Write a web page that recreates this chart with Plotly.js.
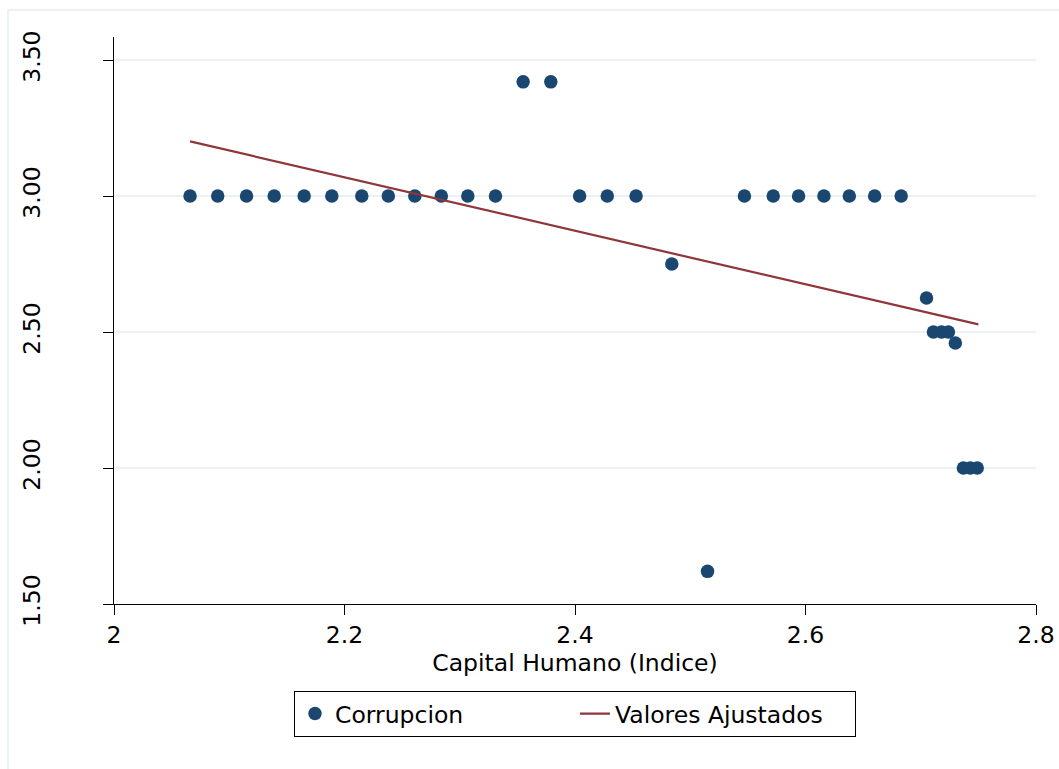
<!DOCTYPE html>
<html>
<head>
<meta charset="utf-8">
<script src="https://cdn.plot.ly/plotly-3.0.1.min.js"></script>
<style>html,body{margin:0;padding:0;background:#fff;}#chart{width:1059px;height:769px;}</style>
</head>
<body>
<div id="chart"></div>
<script>
var capitalHumano = [2.066, 2.090, 2.115, 2.139, 2.165, 2.189, 2.215, 2.238, 2.261, 2.284, 2.307, 2.331,
  2.355, 2.379, 2.404, 2.428, 2.453, 2.484, 2.515, 2.547, 2.572, 2.594, 2.616, 2.638, 2.660, 2.683,
  2.705, 2.711, 2.718, 2.724, 2.730, 2.737, 2.743, 2.749];
var corrupcion = [3.00, 3.00, 3.00, 3.00, 3.00, 3.00, 3.00, 3.00, 3.00, 3.00, 3.00, 3.00,
  3.42, 3.42, 3.00, 3.00, 3.00, 2.75, 1.62, 3.00, 3.00, 3.00, 3.00, 3.00, 3.00, 3.00,
  2.625, 2.50, 2.50, 2.50, 2.46, 2.00, 2.00, 2.00];
// Fitted line endpoints
var ajusteX = [2.066, 2.750];
var ajusteY = [3.201, 2.528];

var yTicks = [1.5, 2.0, 2.5, 3.0, 3.5];
var yTickText = ['1.50', '2.00', '2.50', '3.00', '3.50'];
var xTicks = [2, 2.2, 2.4, 2.6, 2.8];
var xTickText = ['2', '2.2', '2.4', '2.6', '2.8'];

var FONT = 'DejaVu Sans, Liberation Sans, Arial, sans-serif';
var FS = 23.5;
var gridCol = '#eaf2f3';

var traces = [
  {
    x: capitalHumano, y: corrupcion, type: 'scatter', mode: 'markers', name: 'Corrupcion',
    marker: {color: '#1a476f', size: 13.5}
  },
  {
    x: ajusteX, y: ajusteY, type: 'scatter', mode: 'lines', name: 'Valores Ajustados',
    line: {color: '#90353b', width: 2.2}
  }
];

var layout = {
  width: 1059, height: 769,
  margin: {l: 114, r: 23, t: 37, b: 165},
  paper_bgcolor: '#ffffff', plot_bgcolor: '#ffffff',
  font: {family: FONT, size: FS, color: '#000'},
  showlegend: true,
  xaxis: {
    range: [2, 2.8], tickvals: xTicks, ticktext: xTickText,
    showgrid: false, zeroline: false,
    showline: true, linecolor: '#000', linewidth: 1.2,
    ticks: 'outside', ticklen: 10, tickcolor: '#000', tickwidth: 1.2,
    tickfont: {family: FONT, size: FS, color: '#000'},
    title: {text: 'Capital Humano (Indice)', font: {family: FONT, size: FS, color: '#000'}, standoff: 1},
    automargin: false
  },
  yaxis: {
    range: [1.5, 3.585], tickvals: yTicks, ticktext: yTickText,
    showgrid: true, gridcolor: gridCol, gridwidth: 2, zeroline: false,
    showline: true, linecolor: '#000', linewidth: 1.2,
    ticks: 'outside', ticklen: 10, tickcolor: '#000', tickwidth: 1.2,
    tickangle: -90, ticklabelstandoff: 54,
    tickfont: {family: FONT, size: FS, color: '#000'},
    automargin: false
  },
  legend: {
    orientation: 'h', x: 0.5, xanchor: 'center', y: -0.153, yanchor: 'top',
    bordercolor: '#000', borderwidth: 1, bgcolor: '#fff',
    font: {family: FONT, size: FS, color: '#000'},
    entrywidth: 235, entrywidthmode: 'pixels'
  },
  shapes: [
    {type: 'line', xref: 'paper', yref: 'paper', x0: -0.1150, x1: 1.05, y0: 1.0476, y1: 1.0476,
     line: {color: gridCol, width: 2}},
    {type: 'line', xref: 'paper', yref: 'paper', x0: -0.1150, x1: -0.1150, y0: 1.0476, y1: -0.3,
     line: {color: gridCol, width: 2}}
  ]
};

Plotly.newPlot('chart', traces, layout, {displayModeBar: false, responsive: false});
</script>
</body>
</html>
